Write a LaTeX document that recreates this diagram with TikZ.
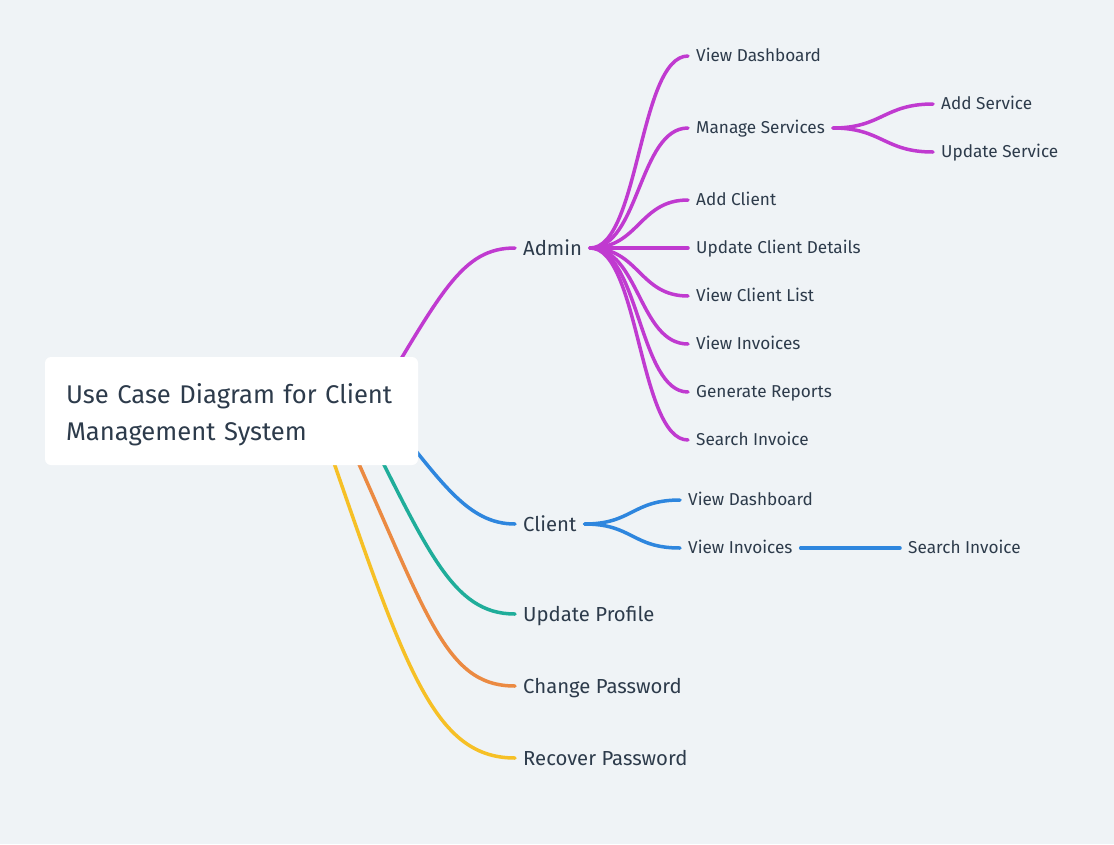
\documentclass[tikz,border=0pt]{standalone}
\usepackage{fontspec}
\setmainfont{Fira Sans}
\definecolor{bgc}{HTML}{EFF3F6}
\definecolor{txt}{HTML}{2D3B4B}
\definecolor{cadmin}{HTML}{C03AD0}
\definecolor{cclient}{HTML}{2E86DE}
\definecolor{cprofile}{HTML}{1FAD9A}
\definecolor{cpass}{HTML}{EB8A42}
\definecolor{crecover}{HTML}{F6C026}
\begin{document}
\begin{tikzpicture}[x=1pt, y=-1pt,
    branch/.style={anchor=west, inner xsep=8pt, inner ysep=0pt, text=txt, text height=15.5pt, text depth=1.5pt, font=\fontsize{20.3}{24}\selectfont},
    leaf/.style={branch, text height=13pt, text depth=1.2pt, font=\fontsize{17.2}{20}\selectfont},
    link/.style={line width=3.5pt, line cap=round},
    rootbox/.style={fill=white, rounded corners=6pt, text=txt, align=left, inner xsep=21pt, text width=331pt, minimum height=108pt, font=\fontsize{25.6}{37}\selectfont, execute at begin node={\rule{0pt}{27pt}}}]
  % background and frame
  \fill[bgc] (0,0) rectangle (1114,844);
  \useasboundingbox (0,0) rectangle (1114,844);

  % first level
  \node[branch] (admin)   at (515,248) {Admin};
  \node[branch] (client)  at (515,524) {Client};
  \node[branch] (profile) at (515,614) {Update Profile};
  \node[branch] (pass)    at (515,686) {Change Password};
  \node[branch] (recover) at (515,758) {Recover Password};

  % admin use cases
  \node[leaf] (adash)   at (688,56)  {View Dashboard};
  \node[leaf] (aserv)   at (688,128) {Manage Services};
  \node[leaf] (aadd)    at (688,200) {Add Client};
  \node[leaf] (aupd)    at (688,248) {Update Client Details};
  \node[leaf] (alist)   at (688,296) {View Client List};
  \node[leaf] (ainv)    at (688,344) {View Invoices};
  \node[leaf] (arep)    at (688,392) {Generate Reports};
  \node[leaf] (asearch) at (688,440) {Search Invoice};
  \node[leaf] (sadd)    at (933,104) {Add Service};
  \node[leaf] (supd)    at (933,152) {Update Service};

  % client use cases
  \node[leaf] (cdash)   at (680,500) {View Dashboard};
  \node[leaf] (cinv)    at (680,548) {View Invoices};
  \node[leaf] (csearch) at (900,548) {Search Invoice};

  % links from the root
  \coordinate (sadmin)   at (370,411);
  \coordinate (sclient)  at (384,411);
  \coordinate (sprofile) at (357,411);
  \coordinate (spass)    at (335,411);
  \coordinate (srecover) at (316,411);
  \draw[link, cadmin]   (sadmin)   .. controls +(72,-120) and +(-53,0) .. (admin.west);
  \draw[link, cclient]  (sclient)  .. controls +(57,70)   and +(-48,0) .. (client.west);
  \draw[link, cprofile] (sprofile) .. controls +(71,140)  and +(-63,0) .. (profile.west);
  \draw[link, cpass]    (spass)    .. controls +(92,200)  and +(-73,0) .. (pass.west);
  \draw[link, crecover] (srecover) .. controls +(87,250)  and +(-85,0) .. (recover.west);

  \foreach \leafname in {adash,aserv,aadd,aupd,alist,ainv,arep,asearch}
    \draw[link, cadmin] (admin.east) .. controls +(49,0) and +(-49,0) .. (\leafname.west);
  \foreach \leafname in {sadd,supd}
    \draw[link, cadmin] (aserv.east) .. controls +(49,0) and +(-49,0) .. (\leafname.west);
  \foreach \leafname in {cdash,cinv}
    \draw[link, cclient] (client.east) .. controls +(48,0) and +(-48,0) .. (\leafname.west);
  \draw[link, cclient] (cinv.east) -- (csearch.west);

  % root on top
  \node[rootbox, minimum width=373pt] (root) at (231.5,411) {Use Case Diagram for Client\\Management System};
\end{tikzpicture}
\end{document}
